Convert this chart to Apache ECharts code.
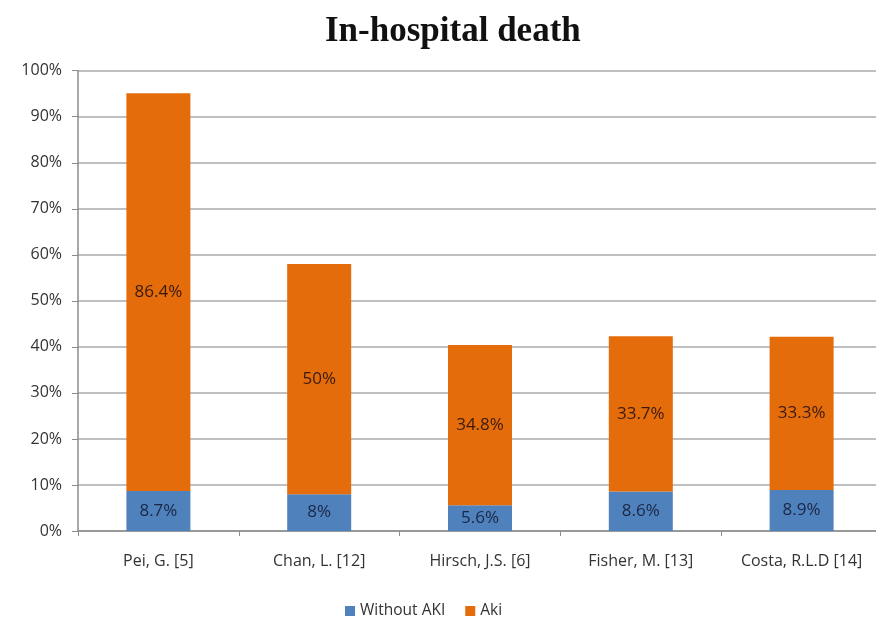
<!DOCTYPE html>
<html>
<head>
<meta charset="utf-8">
<script src="https://cdn.jsdelivr.net/npm/echarts@6/dist/echarts.min.js"></script>
<style>
html,body{margin:0;padding:0;background:#fff;overflow:hidden;}
#chart{width:882px;height:623px;}
</style>
</head>
<body>
<div id="chart"></div>
<script>
const categories = ['Pei, G. [5]', 'Chan, L. [12]', 'Hirsch, J.S. [6]', 'Fisher, M. [13]', 'Costa, R.L.D [14]'];
const withoutAki = [8.7, 8, 5.6, 8.6, 8.9];
const aki = [86.4, 50, 34.8, 33.7, 33.3];
const yTicks = [0, 10, 20, 30, 40, 50, 60, 70, 80, 90, 100];

const chart = echarts.init(document.getElementById('chart'));
const font = '"Open Sans", "Liberation Sans", sans-serif';
chart.setOption({
  animation: false,
  title: {
    text: 'In-hospital death',
    left: 320,
    top: 9,
    textStyle: { fontFamily: '"Liberation Serif", serif', fontWeight: 'bold', fontSize: 35, color: '#111' }
  },
  legend: {
    data: ['Without AKI', 'Aki'],
    left: 340,
    top: 598,
    itemWidth: 10,
    itemHeight: 10,
    itemGap: 20,
    icon: 'rect',
    textStyle: { fontFamily: font, fontSize: 15.5, color: '#333' }
  },
  grid: { left: 78, top: 70.7, right: 0, bottom: 92, containLabel: false },
  xAxis: {
    type: 'category',
    data: categories,
    axisLine: { lineStyle: { color: '#8c8c8c', width: 1.5 } },
    axisTick: { show: true, length: 5, lineStyle: { color: '#8c8c8c' } },
    axisLabel: { fontFamily: font, fontSize: 16, color: '#333', margin: 22 }
  },
  yAxis: {
    type: 'value',
    min: yTicks[0],
    max: yTicks[yTicks.length - 1],
    interval: 10,
    axisLine: { show: true, lineStyle: { color: '#8c8c8c', width: 1.5 } },
    axisTick: { show: true, length: 6, lineStyle: { color: '#8c8c8c' } },
    splitLine: { lineStyle: { color: '#ababab', width: 1.5 } },
    axisLabel: { fontFamily: font, fontSize: 16, color: '#333', margin: 16, formatter: v => v + '%' }
  },
  series: [
    {
      name: 'Without AKI',
      type: 'bar',
      stack: 'total',
      barWidth: 64,
      data: withoutAki,
      itemStyle: { color: '#4F81BD' },
      label: { show: true, position: 'inside', fontFamily: font, fontSize: 17, color: '#1b2744', formatter: p => p.value + '%' }
    },
    {
      name: 'Aki',
      type: 'bar',
      stack: 'total',
      barWidth: 64,
      data: aki,
      itemStyle: { color: '#E46C0A' },
      label: { show: true, position: 'inside', fontFamily: font, fontSize: 17, color: '#3a1a10', formatter: p => p.value + '%' }
    }
  ]
});
</script>
</body>
</html>
